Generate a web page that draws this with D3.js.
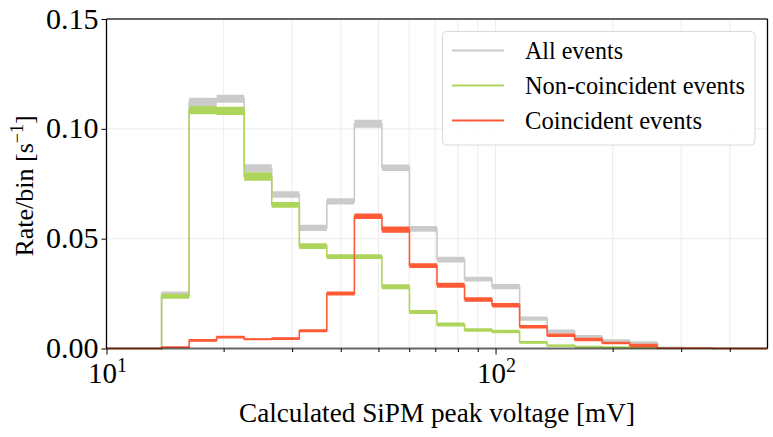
<!DOCTYPE html>
<html>
<head>
<meta charset="utf-8">
<script src="https://cdn.jsdelivr.net/npm/d3@7"></script>
<style>
  body { margin: 0; background: #fff; }
  svg text { font-family: "Liberation Serif", "Times New Roman", serif; fill: #000; }
</style>
</head>
<body>
<div id="chart"></div>
<script>
// bin edges (mV), 24 log bins from 10 to 500
var binEdges = [10, 11.770, 13.854, 16.307, 19.194, 22.593, 26.592, 31.300, 36.842, 43.365,
    51.042, 60.079, 70.711, 83.230, 97.965, 115.31, 135.72, 159.75, 188.03, 221.32,
    260.50, 306.62, 360.91, 424.81, 500];

// rate per bin [1/s] and band half width
var allRate = [0, 0, 0.0250, 0.1122, 0.1137, 0.0821, 0.0701, 0.0549, 0.0670, 0.1023, 0.0823, 0.0545,
    0.0405, 0.0316, 0.0282, 0.0136, 0.0077, 0.0052, 0.0034, 0.0024, 0.0004, 0.0002, 0, 0];
var allErr = [0, 0, 0.0009, 0.0020, 0.0018, 0.0018, 0.0015, 0.0014, 0.0014, 0.0018, 0.0015, 0.0013,
    0.0013, 0.0011, 0.0012, 0.0010, 0.0009, 0.0009, 0.0008, 0.0009, 0.0004, 0.0003, 0, 0];

var nonRate = [0, 0, 0.0238, 0.1085, 0.1082, 0.0783, 0.0654, 0.0466, 0.0418, 0.0418, 0.0281, 0.0166,
    0.0109, 0.0084, 0.0077, 0.0028, 0.0013, 0.0008, 0.0005, 0.0004, 0, 0, 0, 0];
var nonErr = [0, 0, 0.0011, 0.0019, 0.0019, 0.0019, 0.0013, 0.0013, 0.0011, 0.0011, 0.0011, 0.0009,
    0.0009, 0.0008, 0.0008, 0.0006, 0.0005, 0.0005, 0.0004, 0.0003, 0, 0, 0, 0];

var coinRate = [0, 0, 0.0006, 0.0037, 0.0052, 0.0042, 0.0045, 0.0081, 0.0250, 0.0602, 0.0541, 0.0377,
    0.0288, 0.0223, 0.0197, 0.0099, 0.0060, 0.0041, 0.0025, 0.0014, 0.0001, 0.0001, 0, 0];
var coinErr = [0, 0, 0.0003, 0.0006, 0.0006, 0.0005, 0.0006, 0.0007, 0.0009, 0.0013, 0.0014, 0.0011,
    0.0011, 0.0010, 0.0010, 0.0008, 0.0008, 0.0008, 0.0006, 0.0008, 0.0001, 0.0001, 0, 0];

var seriesNames = ["All events", "Non-coincident events", "Coincident events"];
var seriesColors = ["#cbcbcb", "#aed55b", "#ff5a36"];

var yTicks = [0, 0.05, 0.10, 0.15];
var xMajor = [10, 100];
var xMinor = [20, 30, 40, 50, 60, 70, 80, 90, 200, 300, 400];

//全体サイズ
var W = 773, H = 437;
var margin = { top: 19, right: 5.5, bottom: 88.5, left: 106.5 };
var width = W - margin.left - margin.right,
    height = H - margin.top - margin.bottom;

var svg = d3.select("#chart").append("svg").attr("width", W).attr("height", H);
var g = svg.append("g").attr("transform", "translate(" + margin.left + "," + margin.top + ")");

var xScale = d3.scaleLog().domain([10, 500]).range([0, width]);
var yScale = d3.scaleLinear().domain([0, 0.15]).range([height, 0]);

//グリッド
g.append("g").selectAll("line")
    .data(xMajor.concat(xMinor))
    .enter().append("line")
    .attr("x1", d => xScale(d)).attr("x2", d => xScale(d))
    .attr("y1", 0).attr("y2", height)
    .attr("stroke", "#ececec").attr("stroke-width", 1);
g.append("g").selectAll("line")
    .data([0.05, 0.10])
    .enter().append("line")
    .attr("x1", 0).attr("x2", width)
    .attr("y1", d => yScale(d)).attr("y2", d => yScale(d))
    .attr("stroke", "#ececec").attr("stroke-width", 1);

//ヒストグラム
function stepData(rate, err) {
    var pts = rate.map((v, i) => ({ x: binEdges[i], v: v, e: err[i] }));
    pts.push({ x: binEdges[binEdges.length - 1], v: rate[rate.length - 1], e: err[err.length - 1] });
    return pts;
}

var area = d3.area().curve(d3.curveStepAfter)
    .x(d => xScale(d.x))
    .y0(d => yScale(d.v - d.e))
    .y1(d => yScale(d.v + d.e));
var line = d3.line().curve(d3.curveStepAfter)
    .x(d => xScale(d.x))
    .y(d => yScale(d.v));

var allSeries = [[allRate, allErr], [nonRate, nonErr], [coinRate, coinErr]];
allSeries.forEach((s, k) => {
    var pts = stepData(s[0], s[1]);
    g.append("path").datum(pts).attr("d", area)
        .attr("fill", seriesColors[k]).attr("stroke", "none");
    g.append("path").datum(pts).attr("d", line)
        .attr("fill", "none").attr("stroke", seriesColors[k]).attr("stroke-width", 1.6);
});

//軸
var yAxis = g.append("g")
    .call(d3.axisLeft(yScale).tickValues(yTicks).tickFormat(d3.format(".2f")).tickSize(5).tickPadding(3));
yAxis.select(".domain").remove();
yAxis.selectAll("text").style("font-size", "30px").attr("dy", "0.3em");

var xAxis = g.append("g").attr("transform", "translate(0," + height + ")")
    .call(d3.axisBottom(xScale).tickValues(xMajor.concat(xMinor)).tickFormat("").tickSize(3.5));
xAxis.select(".domain").remove();
xAxis.selectAll(".tick line").filter(d => xMajor.indexOf(d) >= 0).attr("y2", 6);

//x軸ラベル (10^n)
xMajor.forEach(v => {
    var t = g.append("text")
        .attr("x", xScale(v) + 1).attr("y", height + 34)
        .attr("text-anchor", "middle")
        .style("font-size", "29px");
    t.append("tspan").text("10");
    t.append("tspan").text(String(Math.round(Math.log10(v))))
        .attr("dy", "-11").style("font-size", "20px");
});

//枠線
g.append("line").attr("x1", 0).attr("x2", width).attr("y1", 0).attr("y2", 0)
    .attr("stroke", "#000").attr("stroke-opacity", 0.6).attr("stroke-width", 2);
g.append("line").attr("x1", 0).attr("x2", width).attr("y1", height).attr("y2", height)
    .attr("stroke", "#000").attr("stroke-opacity", 0.6).attr("stroke-width", 2);
g.append("line").attr("x1", 0).attr("x2", 0).attr("y1", 0).attr("y2", height)
    .attr("stroke", "#000").attr("stroke-width", 1.3);
g.append("line").attr("x1", width).attr("x2", width).attr("y1", 0).attr("y2", height)
    .attr("stroke", "#000").attr("stroke-width", 1.3);

//軸タイトル
svg.append("text")
    .attr("x", 437).attr("y", 422)
    .attr("text-anchor", "middle")
    .attr("textLength", 396).attr("lengthAdjust", "spacingAndGlyphs")
    .style("font-size", "27px")
    .text("Calculated SiPM peak voltage [mV]");

var yt = svg.append("text")
    .attr("transform", "translate(33,186) rotate(-90)")
    .attr("text-anchor", "middle")
    .style("font-size", "26px");
yt.append("tspan").text("Rate/bin [s");
yt.append("tspan").text("\u22121").attr("dy", "-10").style("font-size", "18px");
yt.append("tspan").text("]").attr("dy", "10");

//凡例
var legend = svg.append("g");
legend.append("rect")
    .attr("x", 442.5).attr("y", 31.5).attr("width", 312.5).attr("height", 113.5)
    .attr("rx", 4).attr("fill", "#fff").attr("fill-opacity", 0.85)
    .attr("stroke", "#d9d9d9").attr("stroke-width", 1);
var legendLen = [98, 220, 177];
seriesNames.forEach((name, i) => {
    var ly = 50.5 + i * 35;
    legend.append("line")
        .attr("x1", 452).attr("x2", 504).attr("y1", ly).attr("y2", ly)
        .attr("stroke", seriesColors[i]).attr("stroke-width", 2.2);
    legend.append("text")
        .attr("x", 525).attr("y", ly + 8)
        .attr("textLength", legendLen[i]).attr("lengthAdjust", "spacingAndGlyphs")
        .style("font-size", "25px")
        .text(name);
});
</script>
</body>
</html>
